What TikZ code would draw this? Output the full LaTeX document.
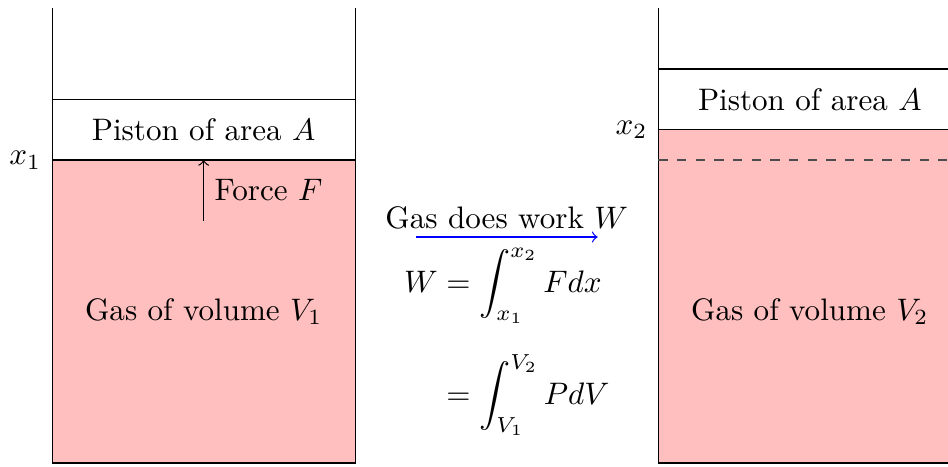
\documentclass[tikz,border=0pt]{standalone}
\usepackage{amsmath}
\usepackage{amssymb}
\usepackage{tikz}
\usepackage{xcolor}

\begin{document}
\begin{tikzpicture}[x=0.685cm,y=0.685cm]
    \useasboundingbox (-0.86,-0.05) rectangle (14.78,7.64);
    \clip (-0.86,-0.05) rectangle (14.78,7.64);
    % before: gas pushes the piston at x_1
    \fill [red!25] (0,0) rectangle (5,5);
    \draw (0,7.5)--(0,0)--(5,0)--(5,7.5);
    \draw (0,5) rectangle (5,6);
    \node (P1) at (2.5,5.5) {Piston of area $A$};
    \node [left] (X1) at (0,5) {$x_1$};
    \node (G1) at (2.5,2.5) {Gas of volume $V_1$};
    \coordinate (F0) at (2.5,4);
    \coordinate (F1) at (2.5,5);
    \draw [->] (F0)--(F1) node[midway,right] (F) {Force $F$};
    % work done by the gas
    \node (W) at (7.5,4.05) {Gas does work $W$};
    \coordinate (W0) at (6,3.73);
    \coordinate (W1) at (9,3.73);
    \draw [->,blue] (W0)--(W1);
    \node (Eq) at (7.5,2) {$\displaystyle\begin{aligned}
        W &= \int_{x_1}^{x_2} F dx\\[6pt]
          &= \int_{V_1}^{V_2} P dV
    \end{aligned}$};
    % after: piston moved up to x_2
    \fill [red!25] (10,0) rectangle (15,5.5);
    \draw (10,7.5)--(10,0)--(15,0)--(15,7.5);
    \draw (10,5.5) rectangle (15,6.5);
    \draw [dashed,black!70] (10,5)--(15,5);
    \node (P2) at (12.5,6) {Piston of area $A$};
    \node [left] (X2) at (10,5.5) {$x_2$};
    \node (G2) at (12.5,2.5) {Gas of volume $V_2$};
\end{tikzpicture}
\end{document}
